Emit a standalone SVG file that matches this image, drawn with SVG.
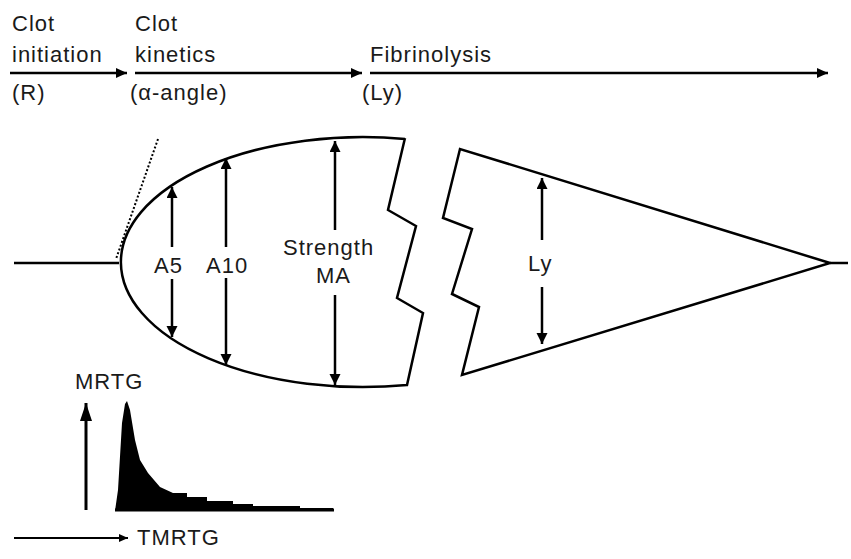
<svg xmlns="http://www.w3.org/2000/svg" width="851" height="559" viewBox="0 0 851 559">
<defs>
<style>
text{font-family:"Liberation Sans",Arial,sans-serif;font-size:22px;letter-spacing:1px;fill:#1a1a1a}
.ln{fill:none;stroke:#000;stroke-width:2.5;stroke-linejoin:miter}
.ar{fill:none;stroke:#000;stroke-width:2.5}
.dot{fill:none;stroke:#000;stroke-width:2;stroke-dasharray:2,2}
</style>
<marker id="ah" markerUnits="userSpaceOnUse" markerWidth="12" markerHeight="10" refX="11" refY="5" orient="auto"><path d="M0,0 L11,5 L0,10 Z" fill="#000"/></marker>
<marker id="av" markerUnits="userSpaceOnUse" markerWidth="12" markerHeight="12" refX="11" refY="5.5" orient="auto"><path d="M0,0 L11,5.5 L0,11 Z" fill="#000"/></marker>
<marker id="am" markerUnits="userSpaceOnUse" markerWidth="19" markerHeight="13" refX="18" refY="6" orient="auto"><path d="M0,0 L18,6 L0,12 Z" fill="#000"/></marker>
<marker id="as" markerUnits="userSpaceOnUse" markerWidth="10" markerHeight="9" refX="9" refY="4" orient="auto"><path d="M0,0 L9,4 L0,8 Z" fill="#000"/></marker>
</defs>
<rect width="851" height="559" fill="#fff"/>

<g id="stage-initiation">
<text x="12" y="31">Clot</text>
<text x="12" y="62">initiation</text>
<text x="12" y="100">(R)</text>
</g>
<g id="stage-kinetics">
<text x="135" y="31">Clot</text>
<text x="135" y="62">kinetics</text>
<text x="130" y="100">(α-angle)</text>
</g>
<g id="stage-fibrinolysis">
<text x="370" y="62">Fibrinolysis</text>
<text x="362" y="100">(Ly)</text>
</g>

<g id="clot-body">
<line class="ln" x1="14" y1="263" x2="119" y2="263"/>
<path class="ln" d="M405,139 A242,125 0 1 0 407,385 L423,313 L397,298 L416,226 L388,210 L405,138"/>
<line class="dot" x1="158" y1="139" x2="116" y2="259"/>
<text x="154" y="273">A5</text>
<text x="206" y="273">A10</text>
<text x="283" y="255">Strength</text>
<text x="316" y="283">MA</text>
</g>

<g id="clot-lysis">
<path class="ln" d="M830,263 L460,149 L443,218 L472,229 L452,294 L479,307 L462,375 Z"/>
<line class="ln" x1="830" y1="263" x2="848" y2="263"/>
<text x="528" y="271">Ly</text>
</g>

<g id="tmrtg-plot">
<path d="M115,511 L118,490 L122,423 L125,404 L127,401 L130,410 L135,440 L140,460 L148,473 L160,487 L173,493 L187,493 L187,497 L207,497 L207,501 L233,501 L233,504 L253,504 L253,506 L300,506 L300,508 L333,508 L333,511 Z" fill="#000"/>
<line x1="115" y1="510" x2="334" y2="510" stroke="#000" stroke-width="3"/>
<text x="75" y="389">MRTG</text>
<text x="137" y="545">TMRTG</text>
</g>

<g id="connectors">
<line class="ar" x1="10" y1="73" x2="127" y2="73" marker-end="url(#ah)"/>
<line class="ar" x1="135" y1="73" x2="362" y2="73" marker-end="url(#ah)"/>
<line class="ar" x1="370" y1="73" x2="828" y2="73" marker-end="url(#ah)"/>

<line class="ar" x1="172" y1="247" x2="172" y2="187" marker-end="url(#av)"/>
<line class="ar" x1="172" y1="279" x2="172" y2="337" marker-end="url(#av)"/>
<line class="ar" x1="226" y1="247" x2="226" y2="158" marker-end="url(#av)"/>
<line class="ar" x1="226" y1="278" x2="226" y2="365" marker-end="url(#av)"/>
<line class="ar" x1="335" y1="230" x2="335" y2="141" marker-end="url(#av)"/>
<line class="ar" x1="335" y1="295" x2="335" y2="385" marker-end="url(#av)"/>
<line class="ar" x1="542" y1="240" x2="542" y2="178" marker-end="url(#av)"/>
<line class="ar" x1="542" y1="287" x2="542" y2="344" marker-end="url(#av)"/>

<line x1="86" y1="510" x2="86" y2="403" stroke="#000" stroke-width="3" marker-end="url(#am)"/>
<line x1="14" y1="538" x2="128" y2="538" stroke="#000" stroke-width="2" marker-end="url(#as)"/>
</g>
</svg>
